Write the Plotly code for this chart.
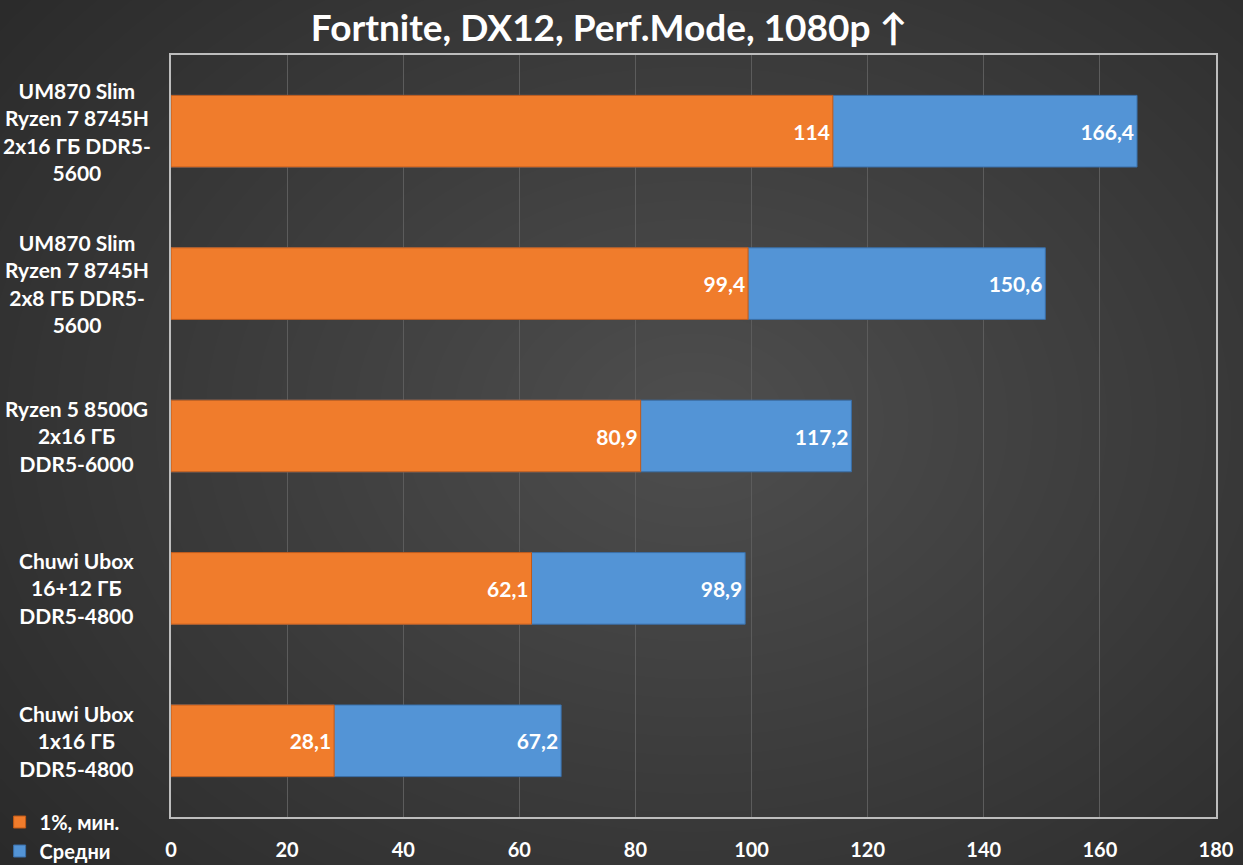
import plotly.graph_objects as go

categories = [
    "UM870 Slim<br>Ryzen 7 8745H<br>2x16 ГБ DDR5-<br>5600",
    "UM870 Slim<br>Ryzen 7 8745H<br>2x8 ГБ DDR5-<br>5600",
    "Ryzen 5 8500G<br>2x16 ГБ<br>DDR5-6000",
    "Chuwi Ubox<br>16+12 ГБ<br>DDR5-4800",
    "Chuwi Ubox<br>1x16 ГБ<br>DDR5-4800",
]
low_1pct = [114, 99.4, 80.9, 62.1, 28.1]
avg_fps = [166.4, 150.6, 117.2, 98.9, 67.2]
x_ticks = [0, 20, 40, 60, 80, 100, 120, 140, 160, 180]

FONT = "Lato"
ORANGE = "#F07C2C"
BLUE = "#5394D6"


def fmt(v):
    return ("%g" % v).replace(".", ",")


fig = go.Figure()
fig.add_trace(go.Bar(
    y=categories, x=avg_fps, orientation="h", name="Средни",
    marker=dict(color=BLUE, line=dict(color="#3a6fa8", width=1)),
    text=[fmt(v) for v in avg_fps], textposition="inside",
    insidetextanchor="end", legendrank=2,
    textfont=dict(family=FONT, size=21, color="white", weight="bold"),
))
fig.add_trace(go.Bar(
    y=categories, x=low_1pct, orientation="h", name="1%, мин.",
    marker=dict(color=ORANGE, line=dict(color="#c05a18", width=1)),
    text=[fmt(v) for v in low_1pct], textposition="inside",
    insidetextanchor="end", legendrank=1,
    textfont=dict(family=FONT, size=21, color="white", weight="bold"),
))

# soft radial glow behind the chart
shapes = []
n = 40
for i in range(n):
    f = (i + 1) / n
    shapes.append(dict(
        type="circle", xref="paper", yref="paper", layer="below",
        x0=0.5 - 0.95 * (1 - f) - 0.04, x1=0.5 + 0.95 * (1 - f) + 0.04,
        y0=0.52 - 1.0 * (1 - f) - 0.04, y1=0.52 + 1.0 * (1 - f) + 0.04,
        fillcolor="rgba(255,255,255,0.0065)", line=dict(width=0),
    ))

annotations = []
for c in categories:
    annotations.append(dict(
        xref="paper", yref="y", x=-0.09, y=c, text=c, showarrow=False,
        xanchor="center", yanchor="middle", align="center",
        font=dict(family=FONT, size=21, color="white", weight="bold"),
    ))

fig.update_layout(
    width=1243, height=865,
    barmode="overlay", bargap=0.53,
    paper_bgcolor="#252525", plot_bgcolor="rgba(0,0,0,0)",
    margin=dict(l=171, r=27, t=55, b=48, autoexpand=False),
    title=dict(
        text="Fortnite, DX12, Perf.Mode, 1080p ↑",
        x=0.49, xanchor="center", y=0.968, yanchor="middle",
        font=dict(family=FONT, size=37, color="white", weight="bold"),
    ),
    font=dict(family=FONT, color="white"),
    legend=dict(
        x=-0.164, xanchor="left", y=0.019, yanchor="top",
        font=dict(family=FONT, size=20, color="white", weight="bold"),
        bgcolor="rgba(0,0,0,0)", itemwidth=30, tracegroupgap=0,
    ),
    shapes=shapes,
    annotations=annotations,
)
fig.update_xaxes(
    range=[0, 180], tickvals=x_ticks, showgrid=True, gridcolor="#5c5c5c",
    gridwidth=1, showline=True, linecolor="#bdbdbd", linewidth=1.5,
    mirror=True, zeroline=False, ticks="", ticklabelstandoff=14,
    tickfont=dict(family=FONT, size=20, color="white", weight="bold"),
)
fig.update_yaxes(
    autorange="reversed", showticklabels=False, showgrid=False,
    showline=True, linecolor="#bdbdbd", linewidth=1.5, mirror=True,
)

fig.write_html(
    "out.html",
    config={"displayModeBar": False},
    post_script="document.body.style.margin='0';document.body.style.overflow='hidden';",
)
